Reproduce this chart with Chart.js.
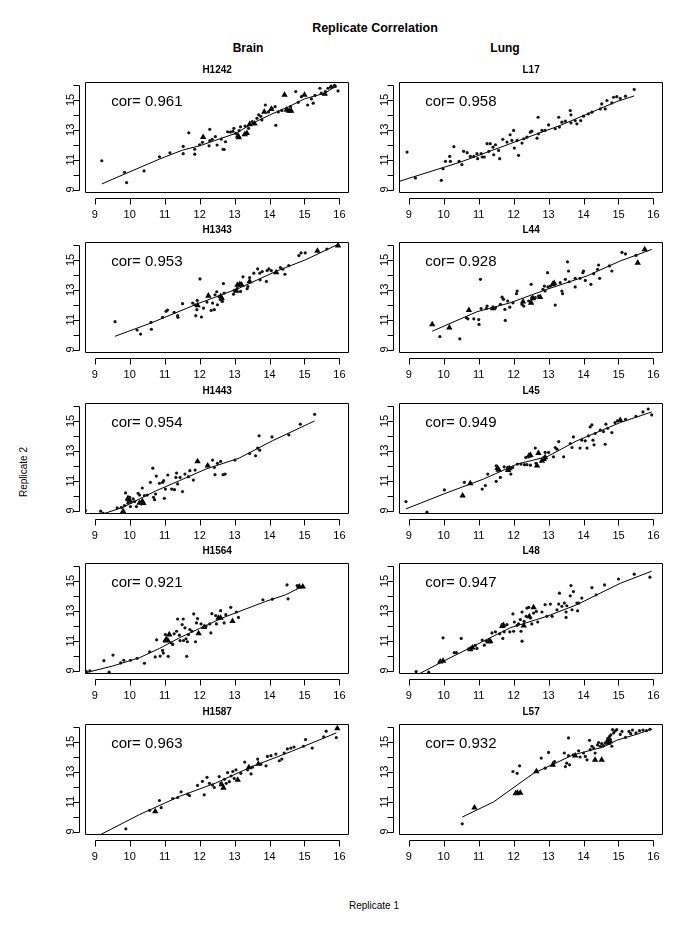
<!DOCTYPE html>
<html><head><meta charset="utf-8">
<script src="https://cdn.jsdelivr.net/npm/chart.js@4/dist/chart.umd.min.js"></script>
<style>
html,body{margin:0;padding:0;width:685px;height:927px;overflow:hidden;background:#fff;font-family:"Liberation Sans",Arial,sans-serif;}
canvas{position:absolute;}
.t{position:absolute;transform:translate(-50%,-50%);white-space:nowrap;color:#000;}
</style></head><body>
<div class="t" style="left:375px;top:28px;font-weight:bold;font-size:12.5px;">Replicate Correlation</div>
<div class="t" style="left:248px;top:48px;font-weight:bold;font-size:12px;">Brain</div>
<div class="t" style="left:505px;top:48px;font-weight:bold;font-size:12px;">Lung</div>
<div class="t" style="left:23px;top:472px;font-size:10px;transform:translate(-50%,-50%) rotate(-90deg);">Replicate 2</div>
<div class="t" style="left:374px;top:905px;font-size:10px;">Replicate 1</div>
<script>
const panelNames = ['H1242','L17','H1343','L44','H1443','L45','H1564','L48','H1587','L57'];
const corValues = ['0.961','0.958','0.953','0.928','0.954','0.949','0.921','0.947','0.963','0.932'];
const xTickValues = [9,10,11,12,13,14,15,16];
const yTickValues = [9,10,11,12,13,14,15,16];
const yTickLabels = ['9','','11','','13','','15',''];

const h1242Dots = [[9.2,10.93],[9.85,10.16],[9.91,9.47],[10.41,10.25],[10.85,11.19],[11.15,11.46],[11.53,11.89],[11.53,11.4],[11.69,12.8],[11.86,11.37],[11.86,11.7],[12.0,12.0],[12.08,12.16],[12.27,11.93],[12.29,13.03],[12.29,12.27],[12.36,12.36],[12.5,11.98],[12.62,12.38],[12.67,11.7],[12.7,11.69],[12.74,12.2],[12.8,12.87],[12.88,12.85],[12.98,13.1],[13.03,12.76],[13.13,12.94],[13.17,13.2],[13.4,13.1],[13.5,13.55],[13.64,13.77],[13.69,14.0],[13.78,13.66],[13.88,14.66],[13.97,14.2],[14.07,14.44],[14.16,14.55],[14.18,13.3],[14.25,14.2],[14.49,14.44],[14.75,15.56],[14.82,14.84],[14.91,15.22],[15.09,14.66],[15.2,15.07],[15.25,14.78],[15.44,15.78],[15.48,15.45],[15.67,15.78],[15.76,15.92],[15.8,15.85],[15.86,15.98],[15.96,15.6],[12.45,12.55],[12.95,12.9],[13.3,13.25],[13.75,13.9],[14.35,14.3],[14.6,14.55],[15.3,15.3],[15.6,15.55],[15.75,15.85],[15.88,15.9]];
const h1242Tri = [[12.1,12.51],[13.1,12.6],[13.12,12.49],[13.29,12.69],[13.35,12.78],[13.43,13.37],[13.57,13.41],[13.85,14.2],[14.05,14.39],[14.43,15.34],[14.49,14.33],[14.56,14.26],[14.62,14.26],[15.0,15.34],[15.58,15.4]];
const h1242Fit = [[9.2,9.38],[10.85,11.04],[11.51,11.64],[12.0,11.93],[13.03,12.76],[13.6,13.54],[14.07,14.06],[14.55,14.55],[15.0,15.07],[15.58,15.45],[15.91,15.94]];

const l17Dots = [[8.95,11.51],[9.19,9.78],[9.93,9.62],[9.98,10.4],[10.05,10.89],[10.17,11.22],[10.19,10.89],[10.29,11.87],[10.44,10.89],[10.52,10.67],[10.57,11.56],[10.67,11.47],[10.76,11.22],[10.86,11.22],[10.95,11.4],[10.97,11.07],[11.07,11.4],[11.1,11.18],[11.16,11.18],[11.24,12.07],[11.29,11.56],[11.33,12.07],[11.41,11.84],[11.43,11.33],[11.48,12.0],[11.57,11.62],[11.6,11.07],[11.69,12.36],[11.81,12.18],[11.9,12.67],[11.95,12.29],[12.0,12.96],[12.02,11.78],[12.1,12.29],[12.14,11.29],[12.24,12.11],[12.29,12.4],[12.38,12.51],[12.48,12.84],[12.52,12.91],[12.67,12.44],[12.7,13.84],[12.71,12.73],[12.81,12.96],[12.9,12.96],[13.0,13.33],[13.19,13.07],[13.29,13.84],[13.31,13.18],[13.38,13.51],[13.48,13.58],[13.62,14.29],[13.64,14.0],[13.64,13.47],[13.76,13.62],[13.81,13.4],[13.92,13.62],[14.0,13.91],[14.14,14.07],[14.24,14.18],[14.48,14.4],[14.52,14.73],[14.62,14.4],[14.67,14.96],[14.81,14.8],[14.86,15.18],[14.95,15.22],[15.05,15.1],[15.2,15.25],[15.45,15.7]];
const l17Tri = [];
const l17Fit = [[8.74,9.56],[10.48,10.84],[11.9,12.07],[13.33,13.29],[14.95,14.89],[15.45,15.27]];

const h1343Dots = [[9.58,10.87],[10.21,10.31],[10.31,10.04],[10.61,10.82],[10.62,10.36],[10.94,11.16],[11.04,11.56],[11.08,11.64],[11.27,11.49],[11.37,11.27],[11.38,11.16],[11.51,12.07],[11.8,12.11],[11.87,12.0],[11.89,11.27],[11.92,11.67],[11.93,12.29],[12.01,13.73],[12.05,11.18],[12.11,11.78],[12.21,12.18],[12.33,11.62],[12.37,12.11],[12.42,11.67],[12.44,12.67],[12.49,12.87],[12.51,12.0],[12.56,12.56],[12.6,12.33],[12.65,12.22],[12.68,13.42],[12.7,12.78],[12.97,12.71],[12.99,12.96],[13.08,13.11],[13.17,12.89],[13.24,13.87],[13.36,13.07],[13.38,13.22],[13.43,13.82],[13.55,14.11],[13.66,14.4],[13.72,14.11],[13.73,13.67],[13.79,14.22],[13.91,13.56],[13.93,14.29],[13.98,14.4],[14.05,14.29],[14.31,14.49],[14.38,14.38],[14.44,14.04],[14.55,14.62],[14.84,15.29],[14.9,15.47],[15.02,15.47],[15.64,15.73]];
const h1343Tri = [[11.94,11.96],[12.25,12.6],[12.6,12.56],[12.63,12.44],[13.05,12.93],[13.08,13.33],[13.15,13.38],[13.2,13.33],[13.43,13.56],[14.19,14.16],[15.37,15.6],[15.96,15.96]];
const h1343Fit = [[9.58,9.89],[10.61,10.78],[11.99,12.11],[13.13,13.11],[14.17,14.22],[15.02,15.0],[15.96,16.04]];

const l44Dots = [[9.89,9.87],[10.46,9.72],[10.65,11.13],[10.69,11.06],[10.86,11.06],[11.0,11.01],[11.01,10.68],[11.05,13.7],[11.07,11.75],[11.24,11.91],[11.22,11.75],[11.38,11.8],[11.48,11.8],[11.62,12.02],[11.67,12.51],[11.71,12.36],[11.75,11.69],[11.76,10.95],[11.83,12.25],[11.89,11.84],[11.98,12.13],[12.08,12.74],[12.1,12.92],[12.24,12.02],[12.29,11.91],[12.43,12.25],[12.5,13.37],[12.52,12.47],[12.62,12.47],[12.71,12.58],[12.84,13.03],[12.88,13.25],[12.9,12.92],[12.97,14.15],[12.98,13.19],[13.05,13.25],[13.14,13.48],[13.19,11.98],[13.33,13.48],[13.38,12.92],[13.4,12.74],[13.48,13.7],[13.54,14.87],[13.57,14.26],[13.59,13.54],[13.76,13.77],[13.76,13.19],[13.9,13.77],[13.98,14.15],[14.0,14.26],[14.05,13.63],[14.21,13.37],[14.29,14.08],[14.4,14.37],[14.43,14.66],[14.46,13.77],[14.74,14.6],[14.81,14.26],[15.1,15.5],[15.2,15.4],[15.5,15.3]];
const l44Tri = [[9.67,10.68],[10.16,10.46],[10.72,11.64],[11.41,11.75],[12.27,12.2],[12.5,12.13],[12.55,12.43],[12.76,12.51],[13.12,13.37],[13.16,13.45],[15.55,14.8],[15.75,15.7]];
const l44Fit = [[9.67,10.23],[10.95,11.53],[11.9,12.13],[12.95,13.03],[14.1,13.93],[15.05,14.93],[15.95,15.7]];

const h1443Dots = [[8.73,9.0],[9.17,8.96],[9.24,8.82],[9.64,9.18],[9.76,9.22],[9.81,8.89],[9.85,9.33],[9.88,10.18],[9.92,9.71],[9.95,9.49],[10.0,9.89],[10.02,9.27],[10.04,9.56],[10.1,9.78],[10.14,9.6],[10.19,9.27],[10.24,10.16],[10.28,10.04],[10.33,9.44],[10.36,10.51],[10.42,10.0],[10.5,10.04],[10.59,10.89],[10.66,11.84],[10.68,9.89],[10.71,9.73],[10.74,10.11],[10.76,11.31],[10.85,10.82],[10.94,10.89],[10.97,11.0],[10.99,9.82],[11.02,10.44],[11.09,11.38],[11.2,10.44],[11.28,10.4],[11.32,11.22],[11.34,11.51],[11.37,10.78],[11.44,11.22],[11.51,10.27],[11.58,11.44],[11.68,11.27],[11.72,11.67],[11.82,11.04],[11.87,11.71],[12.37,12.38],[12.42,11.89],[12.44,11.4],[12.51,12.16],[12.6,12.29],[12.67,11.4],[12.73,11.44],[13.01,12.38],[13.43,12.82],[13.6,12.67],[13.66,13.18],[13.7,14.0],[13.72,13.04],[14.07,13.93],[14.55,14.07],[14.88,14.78],[15.29,15.44]];
const h1443Tri = [[9.81,8.96],[9.95,9.82],[10.0,9.67],[10.28,9.51],[10.36,9.62],[10.39,9.49],[11.94,12.29],[12.23,12.0]];
const h1443Fit = [[9.24,8.78],[9.81,9.22],[10.28,9.78],[10.76,10.33],[11.42,11.0],[12.18,11.78],[13.13,12.51],[14.08,13.67],[15.29,15.0]];

const l45Dots = [[8.92,9.6],[9.52,8.89],[10.02,10.38],[10.59,10.89],[11.1,10.44],[11.19,10.67],[11.26,11.44],[11.5,10.96],[11.62,11.22],[11.5,12.0],[11.73,11.93],[11.83,11.89],[11.92,11.44],[11.97,11.89],[12.11,12.11],[12.21,12.11],[12.31,12.07],[12.35,12.56],[12.38,12.07],[12.43,12.6],[12.48,12.04],[12.62,13.18],[12.64,12.16],[12.84,12.51],[12.9,12.89],[13.0,12.89],[13.14,12.6],[13.19,13.22],[13.24,13.11],[13.29,13.62],[13.43,12.6],[13.62,13.49],[13.67,13.22],[13.71,13.93],[13.9,13.18],[13.95,13.71],[14.05,13.67],[14.1,13.18],[14.14,14.0],[14.19,14.6],[14.24,14.73],[14.27,13.71],[14.3,13.4],[14.33,14.16],[14.48,14.38],[14.57,14.29],[14.62,13.44],[14.64,14.78],[14.69,14.51],[14.81,14.22],[14.9,14.89],[14.97,15.0],[15.2,15.1],[15.5,15.3],[15.7,15.6],[15.85,15.8],[15.95,15.4]];
const l45Tri = [[10.54,10.0],[10.76,10.82],[11.54,11.84],[11.57,11.73],[11.84,11.71],[11.88,11.82],[12.44,12.67],[12.48,12.71],[12.67,12.0],[12.71,12.84],[12.81,12.33],[12.86,12.44],[12.9,12.56],[15.05,15.05]];
const l45Fit = [[8.92,9.11],[10.0,10.11],[11.14,11.11],[12.1,12.11],[12.95,12.6],[13.81,13.67],[15.05,14.89],[15.95,15.6]];

const h1564Dots = [[8.76,8.93],[8.86,8.98],[9.26,9.66],[9.41,8.89],[9.52,10.04],[9.74,9.51],[9.83,9.69],[10.02,9.69],[10.21,9.82],[10.42,9.49],[10.57,10.26],[10.73,9.91],[10.77,11.06],[10.87,9.97],[10.94,10.35],[10.96,10.17],[10.99,10.97],[11.02,11.41],[11.1,9.95],[11.18,10.86],[11.23,10.75],[11.27,11.46],[11.34,11.63],[11.37,12.45],[11.42,11.37],[11.44,11.01],[11.5,12.08],[11.53,12.45],[11.54,11.01],[11.58,11.86],[11.61,11.13],[11.63,9.95],[11.65,10.93],[11.68,11.41],[11.72,11.75],[11.78,11.63],[11.83,12.79],[11.88,10.93],[11.91,12.19],[11.94,12.48],[12.04,12.12],[12.1,11.9],[12.18,11.97],[12.29,12.12],[12.32,11.52],[12.35,12.81],[12.46,12.68],[12.48,12.12],[12.6,13.01],[12.7,12.19],[12.75,12.74],[12.89,13.23],[13.05,12.92],[13.11,12.56],[13.81,13.74],[14.08,13.78],[14.5,14.73],[14.53,13.8],[14.79,14.69]];
const h1564Tri = [[11.04,11.08],[11.09,11.01],[11.13,11.41],[11.97,11.48],[12.13,11.9],[12.54,12.52],[12.6,12.52],[12.94,12.3],[14.85,14.62],[14.95,14.62]];
const h1564Fit = [[8.77,8.87],[9.52,9.31],[10.28,9.86],[10.85,10.48],[11.42,11.19],[11.99,11.81],[12.65,12.52],[13.89,13.63],[14.46,14.07],[14.93,14.62]];

const l48Dots = [[9.21,8.93],[9.57,8.89],[9.89,9.6],[9.92,9.64],[9.98,11.19],[10.3,10.2],[10.36,10.2],[10.5,11.15],[10.71,10.46],[10.9,10.68],[10.95,10.48],[11.1,11.04],[11.16,10.7],[11.22,10.97],[11.29,11.01],[11.38,11.52],[11.48,11.59],[11.6,11.46],[11.67,12.08],[11.69,11.15],[11.73,11.59],[11.81,12.08],[11.89,11.59],[11.98,12.79],[12.0,11.63],[12.02,12.25],[12.1,12.03],[12.14,12.12],[12.19,12.41],[12.21,11.63],[12.24,12.92],[12.24,10.97],[12.3,12.3],[12.36,12.63],[12.38,13.18],[12.43,13.23],[12.48,12.52],[12.52,12.12],[12.57,12.85],[12.65,12.96],[12.69,12.25],[12.81,12.92],[12.9,13.41],[12.95,12.63],[13.05,13.45],[13.1,12.63],[13.24,13.07],[13.29,13.45],[13.31,14.18],[13.38,13.3],[13.45,13.52],[13.5,12.92],[13.5,12.56],[13.52,13.34],[13.62,14.0],[13.64,14.69],[13.67,13.07],[13.71,14.29],[13.81,13.52],[13.83,13.0],[13.86,13.52],[13.95,13.85],[14.24,14.55],[14.36,14.07],[14.6,14.73],[15.0,15.13],[15.45,15.45],[15.9,15.25]];
const l48Tri = [[9.9,9.6],[9.98,9.64],[10.76,10.42],[10.82,10.53],[11.29,10.93],[11.33,10.97],[11.67,11.97],[11.71,12.03],[12.29,12.01],[12.45,12.63],[12.57,13.23]];
const l48Fit = [[9.24,8.71],[10.0,9.64],[10.95,10.75],[11.9,11.86],[12.95,12.63],[13.81,13.41],[15.05,14.84],[15.95,15.65]];

const h1587Dots = [[9.89,9.18],[10.57,10.42],[10.85,11.08],[10.9,10.6],[11.23,11.21],[11.37,11.28],[11.47,11.66],[11.66,11.5],[11.71,11.41],[11.94,12.09],[12.08,12.36],[12.13,11.46],[12.21,12.63],[12.28,12.23],[12.37,12.11],[12.42,11.95],[12.56,12.68],[12.61,12.23],[12.71,12.5],[12.76,12.23],[12.8,12.95],[12.85,12.34],[12.9,12.72],[12.95,13.02],[12.99,12.56],[13.04,13.13],[13.18,12.9],[13.29,13.65],[13.37,13.13],[13.47,12.86],[13.51,13.31],[13.66,13.85],[13.75,13.51],[13.9,13.4],[13.94,14.03],[14.04,14.08],[14.18,14.19],[14.28,13.74],[14.35,13.85],[14.42,14.26],[14.51,14.53],[14.61,14.59],[14.7,14.66],[14.97,14.71],[15.03,15.16],[15.22,14.59],[15.55,15.34],[15.62,15.72],[15.91,15.29]];
const h1587Tri = [[10.73,10.35],[12.63,12.16],[12.68,11.93],[13.09,12.45],[13.41,13.29],[13.68,13.53],[15.94,15.9]];
const h1587Fit = [[9.0,8.6],[10.29,10.15],[11.42,11.35],[12.46,12.25],[13.5,13.35],[14.62,14.36],[15.91,15.6]];

const l57Dots = [[10.53,9.52],[11.98,13.02],[12.1,12.9],[12.17,13.4],[12.05,11.55],[12.79,13.92],[12.9,13.24],[13.0,14.3],[13.17,13.69],[13.45,14.26],[13.48,13.35],[13.52,13.58],[13.57,14.08],[13.57,15.27],[13.6,13.47],[13.71,14.14],[13.86,14.41],[13.9,13.99],[14.0,14.26],[14.05,14.03],[14.1,13.8],[14.17,15.11],[14.19,14.48],[14.24,14.71],[14.29,14.59],[14.33,14.26],[14.4,14.8],[14.43,14.96],[14.48,14.71],[14.52,14.89],[14.57,14.75],[14.62,14.93],[14.67,15.07],[14.69,15.22],[14.71,15.16],[14.74,15.36],[14.76,15.18],[14.78,15.47],[14.81,14.71],[14.83,15.83],[14.86,15.6],[14.9,15.72],[14.95,15.83],[15.05,15.5],[15.1,15.7],[15.2,15.3],[15.3,15.7],[15.35,15.55],[15.4,15.8],[15.5,15.6],[15.6,15.75],[15.7,15.8],[15.8,15.75],[15.9,15.85]];
const l57Tri = [[10.88,10.6],[12.06,11.55],[12.11,11.59],[12.19,11.59],[12.65,13.02],[13.12,13.47],[13.76,14.08],[14.33,13.8],[14.52,13.8],[14.71,14.93],[14.76,15.04]];
const l57Fit = [[10.53,9.97],[11.43,10.99],[12.57,12.9],[13.71,14.14],[14.57,14.66],[14.95,15.11],[15.5,15.5],[15.95,15.85]];

const panelDots = [h1242Dots,l17Dots,h1343Dots,l44Dots,h1443Dots,l45Dots,h1564Dots,l48Dots,h1587Dots,l57Dots];
const panelTri = [h1242Tri,l17Tri,h1343Tri,l44Tri,h1443Tri,l45Tri,h1564Tri,l48Tri,h1587Tri,l57Tri];
const panelFit = [h1242Fit,l17Fit,h1343Fit,l44Fit,h1443Fit,l45Fit,h1564Fit,l48Fit,h1587Fit,l57Fit];

const FONT = '"Liberation Sans", Arial, Helvetica, sans-serif';
const BOX_LEFT = [85, 399];
const BOX_TOP = [82, 242, 403, 563, 724];
const BOX_W = 266, BOX_H = 111, AXIS_W = 45, TITLE_H = 22, AXIS_H = 30, PAD_R = 10;

const rFrame = {
  id: 'rFrame',
  afterDraw(chart, args, opts) {
    const {ctx, chartArea: a, scales: {x, y}} = chart;
    ctx.save();
    ctx.strokeStyle = '#000';
    ctx.lineWidth = 1;
    ctx.beginPath();
    ctx.rect(Math.round(a.left) + 0.5, Math.round(a.top) + 0.5, Math.round(a.right - a.left) - 1, Math.round(a.bottom - a.top) - 1);
    const yb = Math.round(a.bottom) + 5.5;
    ctx.moveTo(Math.round(x.getPixelForValue(xTickValues[0])) + 0.5, yb);
    ctx.lineTo(Math.round(x.getPixelForValue(xTickValues[xTickValues.length - 1])) + 0.5, yb);
    xTickValues.forEach(v => { const p = Math.round(x.getPixelForValue(v)) + 0.5; ctx.moveTo(p, yb); ctx.lineTo(p, yb + 6); });
    const xl = Math.round(a.left) - 5.5;
    ctx.moveTo(xl, Math.round(y.getPixelForValue(yTickValues[0])) + 0.5);
    ctx.lineTo(xl, Math.round(y.getPixelForValue(yTickValues[yTickValues.length - 1])) + 0.5);
    yTickValues.forEach(v => { const p = Math.round(y.getPixelForValue(v)) + 0.5; ctx.moveTo(xl, p); ctx.lineTo(xl - 6, p); });
    ctx.stroke();
    ctx.fillStyle = '#000';
    ctx.font = '15px ' + FONT;
    ctx.textAlign = 'left';
    ctx.textBaseline = 'middle';
    ctx.fillText('cor= ' + opts.cor, x.getPixelForValue(9.47), y.getPixelForValue(14.88));
    ctx.restore();
  }
};

panelNames.forEach((name, i) => {
  const col = i % 2, row = Math.floor(i / 2);
  const cv = document.createElement('canvas');
  const w = AXIS_W + BOX_W + PAD_R, h = TITLE_H + BOX_H + AXIS_H;
  cv.width = w; cv.height = h;
  cv.style.left = (BOX_LEFT[col] - AXIS_W) + 'px';
  cv.style.top = (BOX_TOP[row] - TITLE_H) + 'px';
  cv.style.width = w + 'px'; cv.style.height = h + 'px';
  document.body.appendChild(cv);
  const toPts = arr => arr.map(p => ({x: p[0], y: p[1]}));
  new Chart(cv, {
    type: 'scatter',
    data: {
      datasets: [
        {data: toPts(panelDots[i]), pointStyle: 'circle', pointRadius: 1.6, backgroundColor: '#151515', borderWidth: 0, pointBorderWidth: 0},
        {data: toPts(panelTri[i]), pointStyle: 'triangle', pointRadius: 3.7, backgroundColor: '#000', borderWidth: 0, pointBorderWidth: 0},
        {data: toPts(panelFit[i]), showLine: true, pointRadius: 0, borderColor: '#000', borderWidth: 1, tension: 0}
      ]
    },
    options: {
      responsive: false, animation: false, devicePixelRatio: 1,
      layout: {padding: {left: 0, right: PAD_R, top: 0, bottom: 0}},
      plugins: {
        legend: {display: false}, tooltip: {enabled: false},
        title: {display: true, text: name, fullSize: false, color: '#000', font: {family: FONT, size: 10, weight: 'bold', lineHeight: 1.2}, padding: {top: 4, bottom: 6}},
        rFrame: {cor: corValues[i]}
      },
      scales: {
        x: {
          type: 'linear', position: 'bottom', min: 8.72, max: 16.28,
          grid: {display: false, drawTicks: false}, border: {display: false},
          afterBuildTicks: s => { s.ticks = xTickValues.map(v => ({value: v})); },
          afterFit: s => { s.height = AXIS_H; },
          ticks: {autoSkip: false, maxRotation: 0, minRotation: 0, padding: 15, color: '#000', font: {family: FONT, size: 11}, callback: v => String(v)}
        },
        y: {
          type: 'linear', position: 'left', min: 8.77, max: 16.2,
          grid: {display: false, drawTicks: false}, border: {display: false},
          afterBuildTicks: s => { s.ticks = yTickValues.map(v => ({value: v})); },
          afterFit: s => { s.width = AXIS_W; },
          ticks: {autoSkip: false, minRotation: 90, maxRotation: 90, crossAlign: 'center', padding: 7.5, color: '#000', font: {family: FONT, size: 11}, callback: v => yTickLabels[yTickValues.indexOf(v)]}
        }
      }
    },
    plugins: [rFrame]
  });
});
</script>
</body></html>
